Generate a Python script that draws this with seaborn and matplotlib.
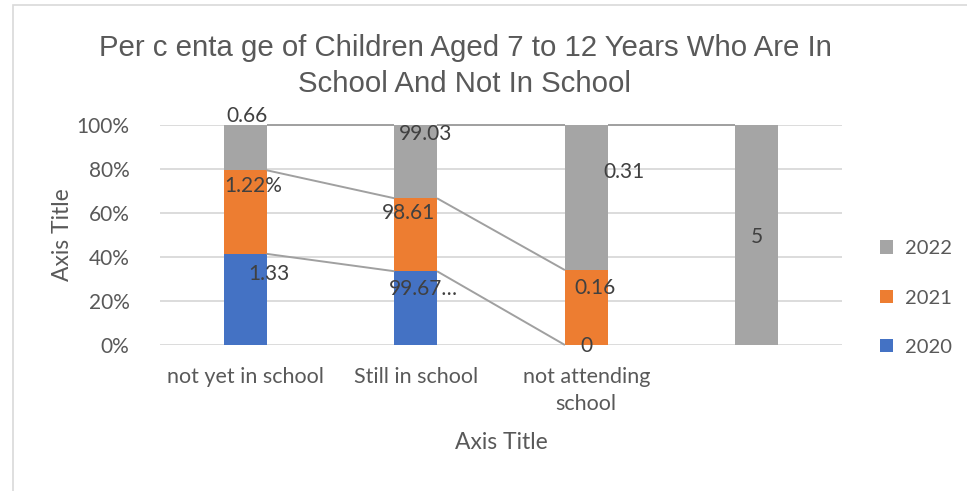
import numpy as np
import pandas as pd
import matplotlib
matplotlib.use("Agg")
import matplotlib.pyplot as plt
from matplotlib.patches import Patch, Rectangle
import seaborn as sns

# ---- data ----
categories = ["not yet in school", "Still in school", "not attending\nschool", ""]
years = ["2020", "2021", "2022"]
v2020 = [1.33, 99.67, 0.0, np.nan]
v2021 = [1.22, 98.61, 0.16, np.nan]
v2022 = [0.66, 99.03, 0.31, 5.0]
labels2020 = ["1.33", "99.67\u2026", "0", None]
labels2021 = ["1.22%", "98.61", "0.16", None]
labels2022 = ["0.66", "99.03", "0.31", "5"]
y_ticks = [0, 20, 40, 60, 80, 100]

# label placement (manual moves in the original chart): (dx in category units, y in %)
pos2020 = [(0.139, 32.3), (0.042, 25.4), (0.0, -0.5), None]
pos2021 = [(0.045, 72.3), (-0.040, 60.0), (0.051, 25.9), None]
pos2022 = [(0.010, 104.1), (0.057, 95.9), (0.221, 78.6), (0.0, 49.1)]

colors = {"2020": "#4472C4", "2021": "#ED7D31", "2022": "#A5A5A5"}

sns.set_theme(style="white")
plt.rcParams["font.family"] = ["Lato", "DejaVu Sans"]

raw = np.array([v2020, v2021, v2022], dtype=float)
tot = np.nansum(raw, axis=0)
pct = raw / tot * 100
filled = np.nan_to_num(pct)
cum = np.cumsum(filled, axis=0)
cum_mask = np.where(np.isnan(pct), np.nan, cum)

fig = plt.figure(figsize=(9.67, 4.91), dpi=100)
ax = fig.add_axes([160 / 967, 1 - 345 / 491, (842 - 160) / 967, 220 / 491])

df = pd.DataFrame({"cat": categories})
for i in [2, 1, 0]:
    df["h"] = cum[i]
    sns.barplot(data=df, x="cat", y="h", order=categories, color=colors[years[i]],
                width=0.25, saturation=1, ax=ax, zorder=3, errorbar=None, linewidth=0)

ax.set_xlim(-0.5, 3.5)
ax.set_ylim(0, 100)
ax.set_yticks(y_ticks)
ax.set_yticklabels([f"{t}%" for t in y_ticks])
ax.yaxis.grid(True, color="#D9D9D9", linewidth=1.3, zorder=0)
ax.set_axisbelow(True)
for s in ax.spines.values():
    s.set_visible(False)
ax.tick_params(axis="y", length=0, labelsize=15, colors="#595959", pad=22)
ax.tick_params(axis="x", length=0, labelsize=15.5, colors="#595959", pad=16)
for lbl in ax.get_xticklabels():
    lbl.set_multialignment("center")
    lbl.set_linespacing(1.45)
ax.set_xlabel("Axis Title", fontsize=16.5, color="#595959")
ax.set_ylabel("Axis Title", fontsize=16.5, color="#595959")
ax.xaxis.set_label_coords(0.5, -0.395)
ax.yaxis.set_label_coords(-0.128, 0.5)

# series lines between adjacent categories
hw = 0.125
for i in range(3):
    for c in range(len(categories) - 1):
        a, b = cum_mask[i, c], cum_mask[i, c + 1]
        if np.isnan(a) or np.isnan(b):
            continue
        ax.plot([c + hw, c + 1 - hw], [a, b], color="#A0A0A0", lw=1.4, zorder=4,
                solid_capstyle="butt", clip_on=False)

# data labels
for labs, poss in [(labels2020, pos2020), (labels2021, pos2021), (labels2022, pos2022)]:
    for c, (t, p) in enumerate(zip(labs, poss)):
        if t is None:
            continue
        ax.text(c + p[0], p[1], t, ha="center", va="center", fontsize=15,
                color="#404040", zorder=6, clip_on=False)

# legend
handles = [Patch(facecolor=colors[y], edgecolor="none", label=y) for y in years[::-1]]
fig.legend(handles=handles, loc="center left", bbox_to_anchor=(870 / 967, 1 - 298 / 491),
           frameon=False, fontsize=14.5, labelcolor="#595959", handlelength=0.65,
           handleheight=0.65, handletextpad=0.6, labelspacing=1.6, borderpad=0)

# title
fig.text(465 / 967, 1 - 66 / 491,
         "Per c enta ge of Children Aged 7 to 12 Years Who Are In\nSchool And Not In School",
         ha="center", va="center", fontsize=21.2, color="#595959",
         family=["Liberation Sans", "DejaVu Sans"], linespacing=1.32)

# chart area border
fig.add_artist(Rectangle((13 / 967, -0.1), 1.2, 1 - 5 / 491 + 0.1,
                         transform=fig.transFigure, fill=False, edgecolor="#D9D9D9", lw=1.2))

fig.savefig("out.png", dpi=100, facecolor="white")
